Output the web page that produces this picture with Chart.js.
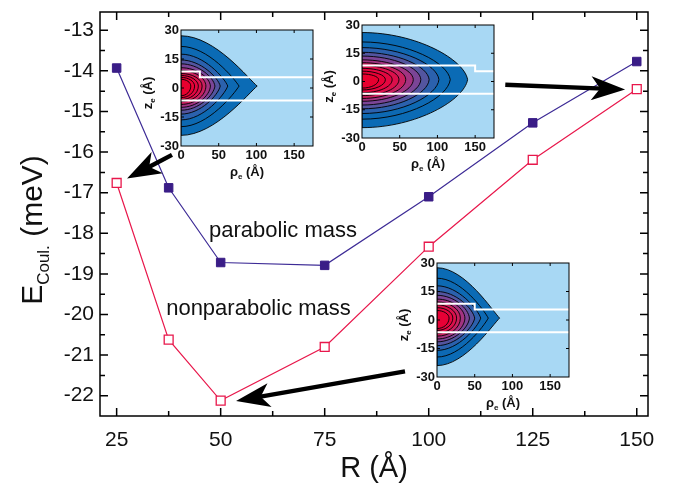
<!DOCTYPE html>
<html>
<head>
<meta charset="utf-8">
<script src="https://cdn.jsdelivr.net/npm/chart.js@4.4.1/dist/chart.umd.min.js"></script>
<style>
  html, body { margin: 0; padding: 0; background: #fff; }
  #wrap { position: relative; width: 678px; height: 489px; }
  #wrap canvas { position: absolute; }
</style>
</head>
<body>
<div id="wrap">
  <canvas id="main" width="678" height="489" style="left:0;top:0"></canvas>
  <canvas id="inset0"></canvas>
  <canvas id="inset1"></canvas>
  <canvas id="inset2"></canvas>
</div>
<script>
/* globals Chart:false */

// main chart data
const rValues = [25, 37.5, 50, 75, 100, 125, 150];
const parabolicMass = [-13.93, -16.88, -18.72, -18.79, -17.10, -15.28, -13.77];
const nonparabolicMass = [-16.76, -20.62, -22.12, -20.80, -18.33, -16.19, -14.45];
const rTicks = [25, 50, 75, 100, 125, 150];
const eTicks = [-13, -14, -15, -16, -17, -18, -19, -20, -21, -22];

// inset data (electron density contours), one entry per inset
const insetR = [25, 150, 50];
const contourRho = [
    [101, 77, 62, 52, 45, 39, 33, 28, 23, 18, 13],
    [140, 117, 102, 89, 78, 68, 58, 49, 40, 31, 22],
    [83, 68, 58, 50, 43, 37, 31, 26, 21, 16],
];
const contourTop = [
    [27, 21.5, 17.5, 14.5, 12.5, 10.5, 9, 7.5, 6.5, 5.5, 4.5],
    [26, 21, 18, 15.5, 13.5, 11.5, 10, 8.5, 7, 5.5, 4],
    [27.5, 22, 18, 15, 13, 11, 9.5, 8, 6.5, 5],
];
const contourBottom = [
    [-24.5, -20, -16.5, -13.5, -11.5, -10, -8.5, -7, -6, -5, -4],
    [-24.5, -20, -17, -14.5, -12.5, -10.5, -9, -7.5, -6, -4.5, -3.5],
    [-24, -19.5, -16, -13.5, -11.5, -10, -8.5, -7, -5.5, -4.5],
];
const wellTopZ = [8.5, 5.5]; // inside dot, outside dot
const wellBottomZ = -6.5;
const rhoTicks = [0, 50, 100, 150];
const zTicks = [-30, -15, 0, 15, 30];

const FONT = "'Liberation Sans', Arial, sans-serif";
const palette = ["#0b6bb5", "#0d69b3", "#2b61ad", "#53559f", "#7b4596", "#a23381",
                 "#c9205f", "#dc0f4b", "#e40640", "#e80035", "#e8002f"];

// draws a run of text pieces (for subscripts), centred on x
function drawParts(ctx, parts, x, y) {
    let total = 0;
    parts.forEach(p => { ctx.font = p[1]; total += ctx.measureText(p[0]).width; });
    let cx = x - total / 2;
    ctx.textAlign = "left";
    ctx.textBaseline = "alphabetic";
    parts.forEach(p => {
        ctx.font = p[1];
        ctx.fillText(p[0], cx, y + p[2]);
        cx += ctx.measureText(p[0]).width;
    });
}

function arrow(ctx, x1, y1, x2, y2) {
    const ang = Math.atan2(y2 - y1, x2 - x1);
    const len = Math.hypot(x2 - x1, y2 - y1);
    ctx.save();
    ctx.translate(x2, y2);
    ctx.rotate(ang);
    ctx.fillStyle = "#000";
    ctx.fillRect(-len, -2.2, len - 22, 4.4);
    ctx.beginPath();
    ctx.moveTo(0, 0);
    ctx.lineTo(-34, -12);
    ctx.lineTo(-25, 0);
    ctx.lineTo(-34, 12);
    ctx.closePath();
    ctx.fill();
    ctx.restore();
}

// inward ticks on all four sides + frame
function frameWithTicks(chart, major, minor, width, withMinor) {
    const { ctx, chartArea: a, scales: { x, y } } = chart;
    ctx.save();
    ctx.strokeStyle = "#000";
    ctx.lineWidth = width;
    ctx.strokeRect(a.left, a.top, a.right - a.left, a.bottom - a.top);
    const xs = x.ticks.map(t => t.value);
    const ys = y.ticks.map(t => t.value);
    const tick = (vals, len, horiz) => {
        vals.forEach(v => {
            if (horiz) {
                const px = x.getPixelForValue(v);
                if (px <= a.left + 1 || px >= a.right - 1) return;
                ctx.beginPath();
                ctx.moveTo(px, a.bottom); ctx.lineTo(px, a.bottom - len);
                ctx.moveTo(px, a.top); ctx.lineTo(px, a.top + len);
                ctx.stroke();
            } else {
                const py = y.getPixelForValue(v);
                if (py <= a.top + 1 || py >= a.bottom - 1) return;
                ctx.beginPath();
                ctx.moveTo(a.left, py); ctx.lineTo(a.left + len, py);
                ctx.moveTo(a.right, py); ctx.lineTo(a.right - len, py);
                ctx.stroke();
            }
        });
    };
    tick(xs, major, true);
    tick(ys, major, false);
    if (withMinor) {
        const mids = v => v.slice(1).map((b, i) => (b + v[i]) / 2);
        tick(mids(xs), minor, true);
        tick(mids(ys.slice().sort((p, q) => p - q)), minor, false);
    }
    ctx.restore();
}

const mainDecor = {
    id: "mainDecor",
    afterDraw(chart) {
        const { ctx, scales: { x, y } } = chart;
        frameWithTicks(chart, 8, 5, 1.5, true);
        ctx.save();
        ctx.fillStyle = "#111";
        // series captions
        ctx.font = "22px " + FONT;
        ctx.textAlign = "left";
        ctx.fillText("parabolic mass", x.getPixelForValue(47.2), y.getPixelForValue(-18.1));
        ctx.fillText("nonparabolic mass", x.getPixelForValue(36.9), y.getPixelForValue(-20.02));
        // arrows from insets to the points they show
        arrow(ctx, x.getPixelForValue(38.3), y.getPixelForValue(-16.07), x.getPixelForValue(27.5), y.getPixelForValue(-16.65));
        arrow(ctx, x.getPixelForValue(118.4), y.getPixelForValue(-14.34), x.getPixelForValue(147.2), y.getPixelForValue(-14.46));
        arrow(ctx, x.getPixelForValue(94.3), y.getPixelForValue(-21.4), x.getPixelForValue(53.7), y.getPixelForValue(-22.13));
        // axis titles
        drawParts(ctx, [["R (Å)", "29px " + FONT, 0]], (chart.chartArea.left + chart.chartArea.right) / 2, 477);
        ctx.translate(42, 230);
        ctx.rotate(-Math.PI / 2);
        drawParts(ctx, [["E", "30px " + FONT, 0], ["Coul.", "17px " + FONT, 7], [" (meV)", "30px " + FONT, 0]], 0, 0);
        ctx.restore();
    },
};

new Chart(document.getElementById("main"), {
    type: "line",
    data: {
        datasets: [
            {
                label: "parabolic mass",
                data: rValues.map((r, i) => ({ x: r, y: parabolicMass[i] })),
                borderColor: "#3d2b96",
                borderWidth: 1.2,
                pointStyle: "rect",
                pointRadius: 6,
                pointBackgroundColor: "#3a1d87",
                pointBorderColor: "#3a1d87",
                pointBorderWidth: 1,
            },
            {
                label: "nonparabolic mass",
                data: rValues.map((r, i) => ({ x: r, y: nonparabolicMass[i] })),
                borderColor: "#e8174b",
                borderWidth: 1.2,
                pointStyle: "rect",
                pointRadius: 6.3,
                pointBackgroundColor: "#fff",
                pointBorderColor: "#e8174b",
                pointBorderWidth: 1.3,
            },
        ],
    },
    options: {
        responsive: false,
        animation: false,
        layout: { padding: { top: 12, right: 30, left: 0, bottom: 0 } },
        plugins: { legend: { display: false }, tooltip: { enabled: false } },
        scales: {
            x: {
                type: "linear",
                min: 21,
                max: 152.7,
                afterBuildTicks: s => { s.ticks = rTicks.map(v => ({ value: v })); },
                afterFit: s => { s.height = 73; s.paddingLeft = 0; s.paddingRight = 0; },
                grid: { display: false, drawTicks: false },
                border: { display: false },
                ticks: { color: "#111", padding: 12, font: { family: FONT, size: 21 } },
            },
            y: {
                min: -22.5,
                max: -12.55,
                afterBuildTicks: s => { s.ticks = eTicks.map(v => ({ value: v })); },
                afterFit: s => { s.width = 100; s.paddingTop = 0; s.paddingBottom = 0; },
                grid: { display: false, drawTicks: false },
                border: { display: false },
                ticks: { color: "#111", padding: 6, font: { family: FONT, size: 21 } },
            },
        },
    },
    plugins: [mainDecor],
});

// ---- insets ----
const insetBoxes = [
    { left: 181, top: 30, w: 132, h: 116 },
    { left: 362, top: 25, w: 132, h: 113 },
    { left: 437, top: 263, w: 132, h: 114 },
];
const insetPoint = [1, 0.3, 1]; // how pointed the outer contour is

const contourPlugin = {
    id: "contours",
    beforeDatasetsDraw(chart, args, opts) {
        const { ctx, chartArea: a, scales: { x, y } } = chart;
        const k = opts.index;
        const rho = contourRho[k], top = contourTop[k], bot = contourBottom[k];
        const zc = 1;
        ctx.save();
        ctx.beginPath();
        ctx.rect(a.left, a.top, a.right - a.left, a.bottom - a.top);
        ctx.clip();
        ctx.fillStyle = "#a8d8f4";
        ctx.fillRect(a.left, a.top, a.right - a.left, a.bottom - a.top);
        rho.forEach((r, i) => {
            const t = i / (rho.length - 1);
            const p = insetPoint[k] * Math.max(0, 1 - 1.6 * t);
            const a1 = 0.55 - 0.1 * p, b1 = 1 - 0.1 * p, kk = 0.55 - 0.43 * p;
            ctx.beginPath();
            ctx.moveTo(x.getPixelForValue(0), y.getPixelForValue(top[i]));
            ctx.bezierCurveTo(
                x.getPixelForValue(a1 * r), y.getPixelForValue(top[i]),
                x.getPixelForValue(b1 * r), y.getPixelForValue(zc + kk * (top[i] - zc)),
                x.getPixelForValue(r), y.getPixelForValue(zc));
            ctx.bezierCurveTo(
                x.getPixelForValue(b1 * r), y.getPixelForValue(zc + kk * (bot[i] - zc)),
                x.getPixelForValue(a1 * r), y.getPixelForValue(bot[i]),
                x.getPixelForValue(0), y.getPixelForValue(bot[i]));
            ctx.closePath();
            ctx.fillStyle = palette[Math.min(i, palette.length - 1)];
            ctx.fill();
            ctx.strokeStyle = "#000";
            ctx.lineWidth = 0.9;
            ctx.stroke();
        });
        ctx.restore();
    },
    afterDraw(chart) {
        const { ctx, chartArea: a } = chart;
        frameWithTicks(chart, 3, 0, 1, false);
        ctx.save();
        ctx.fillStyle = "#111";
        drawParts(ctx, [["ρ", "bold 13px " + FONT, 0], ["e", "bold 8px " + FONT, 3], [" (Å)", "bold 13px " + FONT, 0]],
            (a.left + a.right) / 2, a.bottom + 30);
        ctx.translate(a.left - 29, (a.top + a.bottom) / 2 + 5);
        ctx.rotate(-Math.PI / 2);
        drawParts(ctx, [["z", "bold 13px " + FONT, 0], ["e", "bold 8px " + FONT, 3], [" (Å)", "bold 13px " + FONT, 0]], 0, 0);
        ctx.restore();
    },
};

insetBoxes.forEach((b, k) => {
    const cv = document.getElementById("inset" + k);
    cv.width = b.w + 46 + 12;
    cv.height = b.h + 8 + 40;
    cv.style.left = (b.left - 46) + "px";
    cv.style.top = (b.top - 8) + "px";
    const R = insetR[k];
    new Chart(cv, {
        type: "scatter",
        data: {
            datasets: [
                {
                    data: [{ x: 0, y: wellTopZ[0] }, { x: R, y: wellTopZ[0] }, { x: R, y: wellTopZ[1] }, { x: 175, y: wellTopZ[1] }],
                    showLine: true, borderColor: "#fff", borderWidth: 2, pointRadius: 0,
                },
                {
                    data: [{ x: 0, y: wellBottomZ }, { x: 175, y: wellBottomZ }],
                    showLine: true, borderColor: "#fff", borderWidth: 2, pointRadius: 0,
                },
            ],
        },
        options: {
            responsive: false,
            animation: false,
            layout: { padding: { top: 8, right: 12, left: 0, bottom: 0 } },
            plugins: { legend: { display: false }, tooltip: { enabled: false }, contours: { index: k } },
            scales: {
                x: {
                    type: "linear", min: 0, max: 175,
                    afterBuildTicks: s => { s.ticks = rhoTicks.map(v => ({ value: v })); },
                    afterFit: s => { s.height = 40; s.paddingLeft = 0; s.paddingRight = 0; },
                    grid: { display: false, drawTicks: false },
                    border: { display: false },
                    ticks: { color: "#111", padding: 2, font: { family: FONT, size: 13, weight: "bold" } },
                },
                y: {
                    min: -30, max: 30,
                    afterBuildTicks: s => { s.ticks = zTicks.map(v => ({ value: v })); },
                    afterFit: s => { s.width = 46; s.paddingTop = 0; s.paddingBottom = 0; },
                    grid: { display: false, drawTicks: false },
                    border: { display: false },
                    ticks: { color: "#111", padding: 2, font: { family: FONT, size: 13, weight: "bold" } },
                },
            },
        },
        plugins: [contourPlugin],
    });
});
</script>
</body>
</html>
